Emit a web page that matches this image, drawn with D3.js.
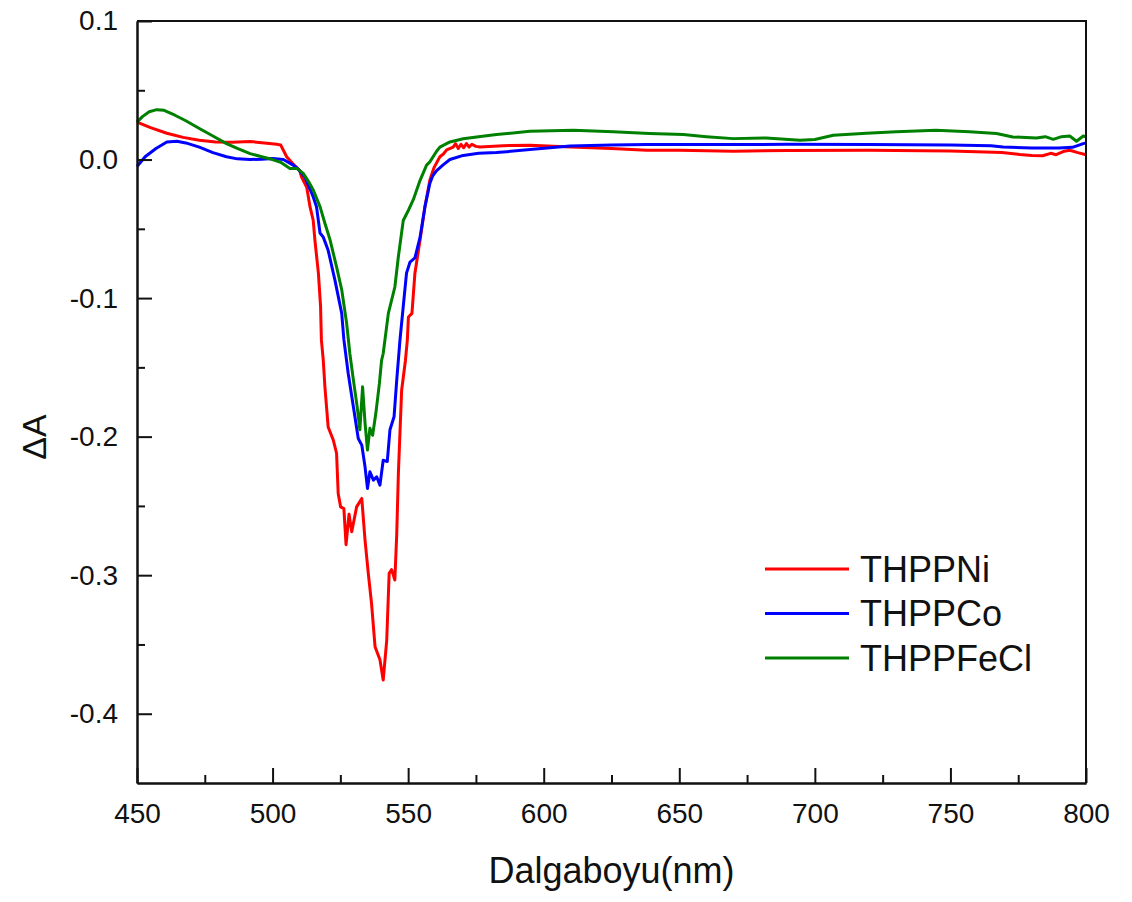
<!DOCTYPE html>
<html lang="en">
<head>
    <meta charset="UTF-8">
    <script src="https://d3js.org/d3.v7.min.js"></script>
    <style>
        body { margin: 0; background: #fff; }
        text { font-family: "Liberation Sans", Arial, sans-serif; fill: #111; }
    </style>
</head>
<body>
    <div id="chart"></div>
    <script>
        // [wavelength nm, deltaA]
        var thppNi = [
            [450, 0.027], [455, 0.023], [461, 0.019], [467, 0.016], [473, 0.014], [479, 0.0127],
            [485, 0.0125], [491.7, 0.013], [497, 0.012], [501.5, 0.011], [503, 0.0105], [505.2, 0.002],
            [507.5, -0.003], [510, -0.008], [510.7, -0.0126], [512.6, -0.02], [513.8, -0.034], [515, -0.044],
            [515.6, -0.058], [516.9, -0.082], [517.7, -0.106], [518, -0.13], [518.7, -0.145], [519.3, -0.164],
            [520.5, -0.193], [522.4, -0.2025], [523.6, -0.212], [524.2, -0.241], [525.1, -0.2507], [526.3, -0.252],
            [527.1, -0.278], [528.2, -0.256], [529.2, -0.2687], [531, -0.2507], [532.9, -0.2446], [534.1, -0.2747],
            [535.3, -0.2987], [536.5, -0.3203], [537.8, -0.3517], [539.6, -0.361], [540.8, -0.3757], [542.1, -0.347],
            [543, -0.2987], [543.9, -0.296], [545.1, -0.3035], [545.8, -0.27], [546.4, -0.2265], [547.6, -0.1665],
            [549, -0.145], [549.7, -0.1304], [550.1, -0.1136], [551.4, -0.111], [552.5, -0.082], [554.4, -0.058],
            [556.2, -0.034], [558, -0.015], [559.5, -0.006], [561.7, 0.002], [563, 0.004], [564.2, 0.007],
            [566.6, 0.009], [567.5, 0.0115], [568.5, 0.008], [569.5, 0.011], [570.5, 0.0085], [571.5, 0.0115],
            [572.5, 0.009], [573.5, 0.011], [575, 0.0095], [576.5, 0.009], [585, 0.01], [595, 0.0103],
            [610, 0.009], [625, 0.008], [638, 0.0067], [650, 0.0067], [670, 0.006], [690, 0.0065],
            [720, 0.0067], [750, 0.0062], [769, 0.0051], [775.6, 0.0037], [780, 0.003], [784, 0.0027],
            [787, 0.0045], [789, 0.0035], [792, 0.006], [794, 0.0067], [797, 0.005], [800, 0.0035]
        ];

        var thppCo = [
            [450, -0.005], [453, 0.002], [457, 0.008], [461, 0.0127], [464.7, 0.0132], [468, 0.012],
            [473, 0.009], [478, 0.005], [483, 0.002], [487, 0.0005], [491.7, 0], [496, 0.0003],
            [500, 0.0007], [504, 0], [507.6, -0.004], [509.5, -0.007], [511.9, -0.0126], [515, -0.027],
            [516.2, -0.034], [517.5, -0.053], [518.7, -0.056], [520.5, -0.0655], [523, -0.087], [525.5, -0.111],
            [526.3, -0.13], [527.9, -0.1544], [529.8, -0.1785], [531.6, -0.2013], [532.9, -0.2061], [534.1, -0.2218],
            [535, -0.2374], [535.9, -0.2254], [537.2, -0.2314], [538.4, -0.229], [539.6, -0.235], [540.8, -0.217],
            [542.3, -0.218], [543.3, -0.195], [544.8, -0.1857], [545.8, -0.159], [547, -0.13], [548.2, -0.106],
            [549.4, -0.082], [550.7, -0.074], [552.5, -0.071], [554.4, -0.056], [556.2, -0.034], [558, -0.0173],
            [559, -0.012], [560.5, -0.008], [562.8, -0.004], [565.4, 0], [570.3, 0.003], [576, 0.0045],
            [582.6, 0.005], [594.9, 0.0072], [609.7, 0.0098], [625, 0.0105], [638, 0.0108], [660, 0.0108],
            [690, 0.011], [720, 0.0108], [750, 0.0105], [765, 0.01], [769.4, 0.009], [780, 0.0084],
            [790, 0.0084], [795, 0.0088], [799, 0.0115], [800, 0.012]
        ];

        var thppFeCl = [
            [450, 0.027], [452, 0.031], [454.5, 0.0345], [457.3, 0.036], [460, 0.0355], [464, 0.032],
            [468, 0.028], [473, 0.0224], [478, 0.017], [483, 0.0115], [487, 0.008], [491.7, 0.0043],
            [496, 0.002], [500, 0], [503, -0.002], [506.4, -0.0065], [509, -0.0065], [511.3, -0.01],
            [513, -0.015], [515, -0.022], [517.5, -0.034], [519.3, -0.046], [521.2, -0.058], [523.6, -0.0775],
            [525.5, -0.094], [527.3, -0.118], [528.5, -0.14], [529.8, -0.159], [531.2, -0.1785], [532.2, -0.195],
            [533.2, -0.164], [534.1, -0.19], [535, -0.2097], [535.9, -0.194], [536.9, -0.199], [538.1, -0.183],
            [539.4, -0.1616], [540.2, -0.145], [540.8, -0.14], [542.7, -0.111], [545.1, -0.092], [546.4, -0.07],
            [548.2, -0.044], [550.1, -0.0366], [551.9, -0.029], [554.4, -0.015], [556.8, -0.004], [558, -0.0017],
            [560.5, 0.006], [561.7, 0.009], [565.4, 0.0127], [570.3, 0.015], [576, 0.0165], [582.6, 0.018],
            [594.9, 0.0204], [610.9, 0.0211], [625.6, 0.02], [639, 0.0188], [651.5, 0.018], [660, 0.0165],
            [669.9, 0.0151], [682, 0.0156], [694.5, 0.014], [700, 0.0145], [706.8, 0.0175], [719, 0.019],
            [730, 0.02], [744.7, 0.0211], [757, 0.02], [767, 0.0188], [773, 0.0163], [781.7, 0.0156],
            [785, 0.0165], [787.9, 0.0146], [791, 0.0165], [794, 0.017], [796.5, 0.0132], [799, 0.017],
            [800, 0.0165]
        ];

        var seriesNames = ["THPPNi", "THPPCo", "THPPFeCl"];
        var seriesColors = ["#ff0000", "#0000ff", "#008000"];
        var xMajor = [450, 500, 550, 600, 650, 700, 750, 800];
        var xMinor = [475, 525, 575, 625, 675, 725, 775];
        var yMajor = [0.1, 0, -0.1, -0.2, -0.3, -0.4];
        var yMinor = [0.05, -0.05, -0.15, -0.25, -0.35];

        var width = 1132,
            height = 902,
            margin = { top: 21, right: 46, bottom: 119, left: 137 };

        var svg = d3.select("#chart")
            .append("svg")
            .attr("width", width)
            .attr("height", height);

        svg.append("rect").attr("width", width).attr("height", height).attr("fill", "#fff");

        var x = d3.scaleLinear().domain([450, 800]).range([margin.left, width - margin.right]);
        var y = d3.scaleLinear().domain([-0.45, 0.1]).range([height - margin.bottom, margin.top]);

        var line = d3.line()
            .x(function (d) { return x(d[0]); })
            .y(function (d) { return y(d[1]); });

        svg.selectAll(".curve")
            .data([thppNi, thppCo, thppFeCl])
            .enter()
            .append("path")
            .attr("class", "curve")
            .attr("d", line)
            .attr("fill", "none")
            .attr("stroke", function (d, i) { return seriesColors[i]; })
            .attr("stroke-width", 3)
            .attr("stroke-linejoin", "round");

        // frame: top and right sides have no ticks
        svg.append("path")
            .attr("d", "M" + x(450) + "," + y(0.1) + "H" + x(800) + "V" + y(-0.45))
            .attr("fill", "none")
            .attr("stroke", "#111")
            .attr("stroke-width", 2);

        var xAxis = svg.append("g")
            .attr("transform", "translate(0," + y(-0.45) + ")")
            .call(d3.axisBottom(x).tickValues(xMajor).tickSize(-15).tickSizeOuter(0).tickPadding(20));
        svg.append("g")
            .attr("transform", "translate(0," + y(-0.45) + ")")
            .call(d3.axisBottom(x).tickValues(xMinor).tickSize(-8).tickSizeOuter(0).tickFormat(""));

        var yAxis = svg.append("g")
            .attr("transform", "translate(" + x(450) + ",0)")
            .call(d3.axisLeft(y).tickValues(yMajor).tickSize(-15).tickSizeOuter(0).tickPadding(19)
                .tickFormat(function (d) { return d.toFixed(1); }));
        svg.append("g")
            .attr("transform", "translate(" + x(450) + ",0)")
            .call(d3.axisLeft(y).tickValues(yMinor).tickSize(-8).tickSizeOuter(0).tickFormat(""));

        svg.selectAll(".domain, .tick line").attr("stroke", "#111").attr("stroke-width", 2);
        svg.selectAll(".tick text")
            .style("font-family", "'Liberation Sans', Arial, sans-serif")
            .style("font-size", "28px")
            .attr("fill", "#111");

        svg.append("text")
            .attr("x", (x(450) + x(800)) / 2)
            .attr("y", 883)
            .attr("text-anchor", "middle")
            .style("font-size", "36px")
            .text("Dalgaboyu(nm)");

        svg.append("text")
            .attr("transform", "translate(46,437) rotate(-90)")
            .attr("text-anchor", "middle")
            .style("font-size", "34px")
            .text("ΔA");

        // legend
        var legend = svg.selectAll(".legend")
            .data(seriesNames)
            .enter()
            .append("g")
            .attr("class", "legend")
            .attr("transform", function (d, i) { return "translate(765," + (569 + i * 44.5) + ")"; });

        legend.append("line")
            .attr("x1", 0)
            .attr("x2", 84)
            .attr("stroke", function (d, i) { return seriesColors[i]; })
            .attr("stroke-width", 3);

        legend.append("text")
            .attr("x", 95)
            .attr("dy", "0.36em")
            .style("font-size", "36px")
            .text(function (d) { return d; });
    </script>
</body>
</html>
